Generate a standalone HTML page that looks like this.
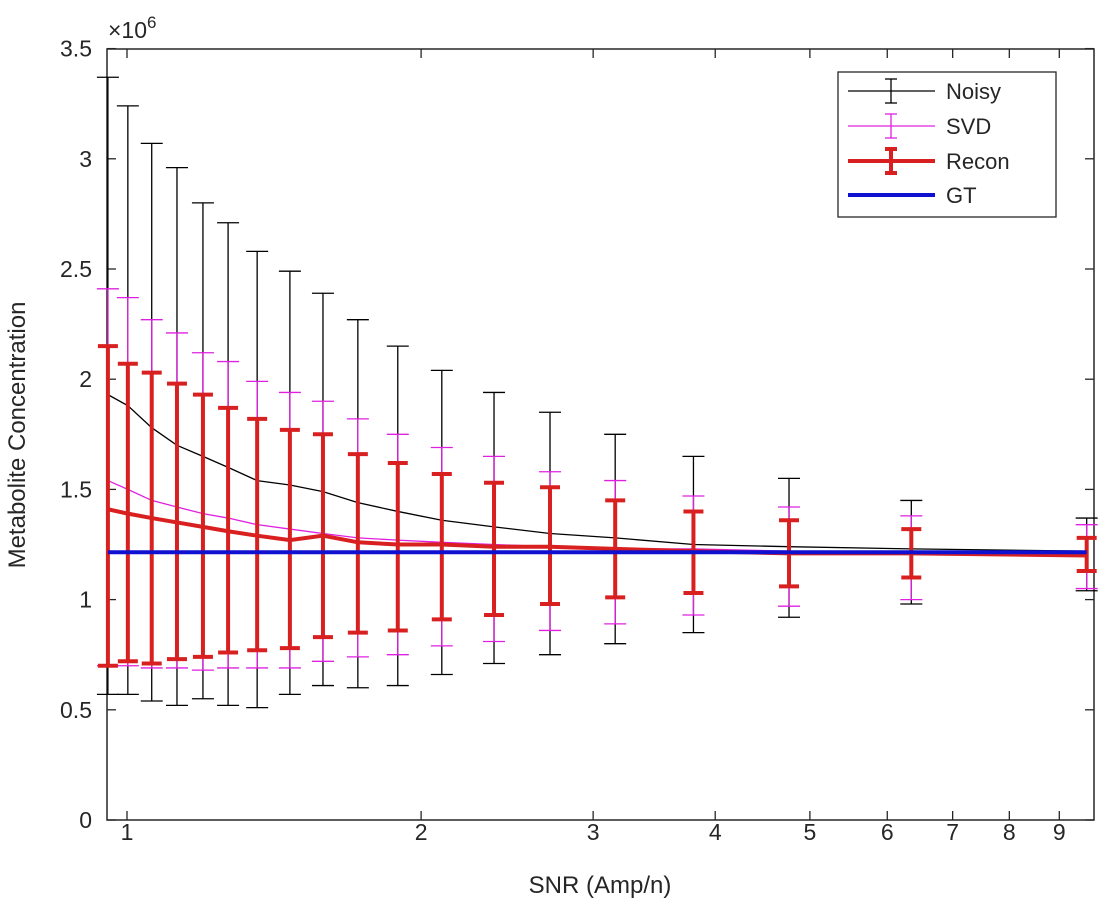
<!DOCTYPE html>
<html><head><meta charset="utf-8"><style>
body{margin:0;background:#fff;}
svg text{font-family:"Liberation Sans",sans-serif;fill:#262626;}
</style></head><body>
<svg id="chart" width="1110" height="912" xmlns="http://www.w3.org/2000/svg"></svg>
<script>
const snr=[0.956,1.002,1.06,1.125,1.196,1.269,1.359,1.468,1.587,1.723,1.893,2.10,2.375,2.71,3.16,3.80,4.76,6.35,9.6];
const noisyMean=[1.93,1.88,1.78,1.70,1.65,1.60,1.54,1.52,1.49,1.44,1.40,1.36,1.33,1.30,1.28,1.25,1.24,1.23,1.22];
const noisyUp=[3.37,3.24,3.07,2.96,2.80,2.71,2.58,2.49,2.39,2.27,2.15,2.04,1.94,1.85,1.75,1.65,1.55,1.45,1.37];
const noisyLo=[0.57,0.57,0.54,0.52,0.55,0.52,0.51,0.57,0.61,0.60,0.61,0.66,0.71,0.75,0.80,0.85,0.92,0.98,1.04];
const svdMean=[1.54,1.50,1.45,1.42,1.39,1.37,1.34,1.32,1.30,1.28,1.27,1.26,1.25,1.24,1.23,1.23,1.22,1.22,1.21];
const svdUp=[2.41,2.37,2.27,2.21,2.12,2.08,1.99,1.94,1.90,1.82,1.75,1.69,1.65,1.58,1.54,1.47,1.42,1.38,1.34];
const svdLo=[0.70,0.70,0.69,0.69,0.68,0.69,0.69,0.69,0.72,0.74,0.75,0.79,0.81,0.86,0.89,0.93,0.97,1.00,1.05];
const recMean=[1.41,1.39,1.37,1.35,1.33,1.31,1.29,1.27,1.29,1.26,1.25,1.25,1.24,1.24,1.23,1.22,1.21,1.21,1.20];
const recUp=[2.15,2.07,2.03,1.98,1.93,1.87,1.82,1.77,1.75,1.66,1.62,1.57,1.53,1.51,1.45,1.40,1.36,1.32,1.28];
const recLo=[0.70,0.72,0.71,0.73,0.74,0.76,0.77,0.78,0.83,0.85,0.86,0.91,0.93,0.98,1.01,1.03,1.06,1.10,1.13];
const gtValue=1.215;
const yTicks=[0,0.5,1,1.5,2,2.5,3,3.5];
const xTicks=[1,2,3,4,5,6,7,8,9];

const L=107,R=1094,T=49,B=820;
const xs=v=>127+977*Math.log10(v);
const ys=v=>820-220.4*v;
const svg=document.getElementById('chart');
const NS='http://www.w3.org/2000/svg';
function mk(tag,attrs,parent){const e=document.createElementNS(NS,tag);for(const k in attrs)e.setAttribute(k,attrs[k]);(parent||svg).appendChild(e);return e;}

const axes=mk('g',{});


mk('rect',{x:L,y:T,width:R-L,height:B-T,fill:'none',stroke:'#262626','stroke-width':1.5},axes);
yTicks.forEach(v=>{const y=ys(v);
 mk('line',{x1:L,y1:y,x2:L+9,y2:y,stroke:'#262626','stroke-width':1.3},axes);
 mk('line',{x1:R,y1:y,x2:R-9,y2:y,stroke:'#262626','stroke-width':1.3},axes);
 const t=mk('text',{x:L-15,y:y+8,'text-anchor':'end','font-size':23},axes);t.textContent=v;
 
 
});
xTicks.forEach(v=>{const x=xs(v);
 mk('line',{x1:x,y1:B,x2:x,y2:B-9,stroke:'#262626','stroke-width':1.3},axes);
 mk('line',{x1:x,y1:T,x2:x,y2:T+9,stroke:'#262626','stroke-width':1.3},axes);
 const t=mk('text',{x:x,y:B+20,'text-anchor':'middle','font-size':23},axes);t.textContent=v;
 
 
});
let t=mk('text',{x:108,y:38,'font-size':23});t.innerHTML='×10<tspan dy="-10" font-size="17">6</tspan>';


t=mk('text',{x:600,y:893,'text-anchor':'middle','font-size':24});t.textContent='SNR (Amp/n)';


t=mk('text',{x:0,y:0,'text-anchor':'middle','font-size':24,transform:'translate(25,435) rotate(-90)'});t.textContent='Metabolite Concentration';



function series(name,mean,up,lo,color,w,cap){
 const g=mk('g',{});
 
 
 for(let i=0;i<snr.length;i++){const x=xs(snr[i]);
  mk('line',{x1:x,y1:ys(up[i]),x2:x,y2:ys(lo[i]),stroke:color,'stroke-width':w},g);
  mk('line',{x1:x-cap,y1:ys(up[i]),x2:x+cap,y2:ys(up[i]),stroke:color,'stroke-width':w},g);
  mk('line',{x1:x-cap,y1:ys(lo[i]),x2:x+cap,y2:ys(lo[i]),stroke:color,'stroke-width':w},g);
 }
 mk('polyline',{points:snr.map((s,i)=>xs(s)+','+ys(mean[i])).join(' '),fill:'none',stroke:color,'stroke-width':w},g);
}
series('noisy',noisyMean,noisyUp,noisyLo,'#000',1.3,11);
series('svd',svdMean,svdUp,svdLo,'#e020e0',1.3,11);
series('recon',recMean,recUp,recLo,'#d92020',4,10);
const gt=mk('line',{x1:xs(snr[0]),y1:ys(gtValue),x2:xs(snr[snr.length-1]),y2:ys(gtValue),stroke:'#1010d0','stroke-width':4});



const lg=mk('g',{});


mk('rect',{x:838,y:72,width:218,height:145,fill:'#fff',stroke:'#262626','stroke-width':1.3},lg);
[['Noisy','#000',1.3,91],['SVD','#e020e0',1.3,126],['Recon','#d92020',4,161],['GT','#1010d0',4,195]].forEach(([n,c,w,y])=>{
 const e=mk('g',{},lg);
 
 
 mk('line',{x1:848,y1:y,x2:935,y2:y,stroke:c,'stroke-width':w},e);
 if(n!=='GT'){mk('line',{x1:891,y1:y-12,x2:891,y2:y+12,stroke:c,'stroke-width':w},e);
  mk('line',{x1:885,y1:y-12,x2:897,y2:y-12,stroke:c,'stroke-width':w},e);
  mk('line',{x1:885,y1:y+12,x2:897,y2:y+12,stroke:c,'stroke-width':w},e);}
 const tt=mk('text',{x:946,y:y+8,'font-size':22},e);tt.textContent=n;
});
</script>
</body></html>
